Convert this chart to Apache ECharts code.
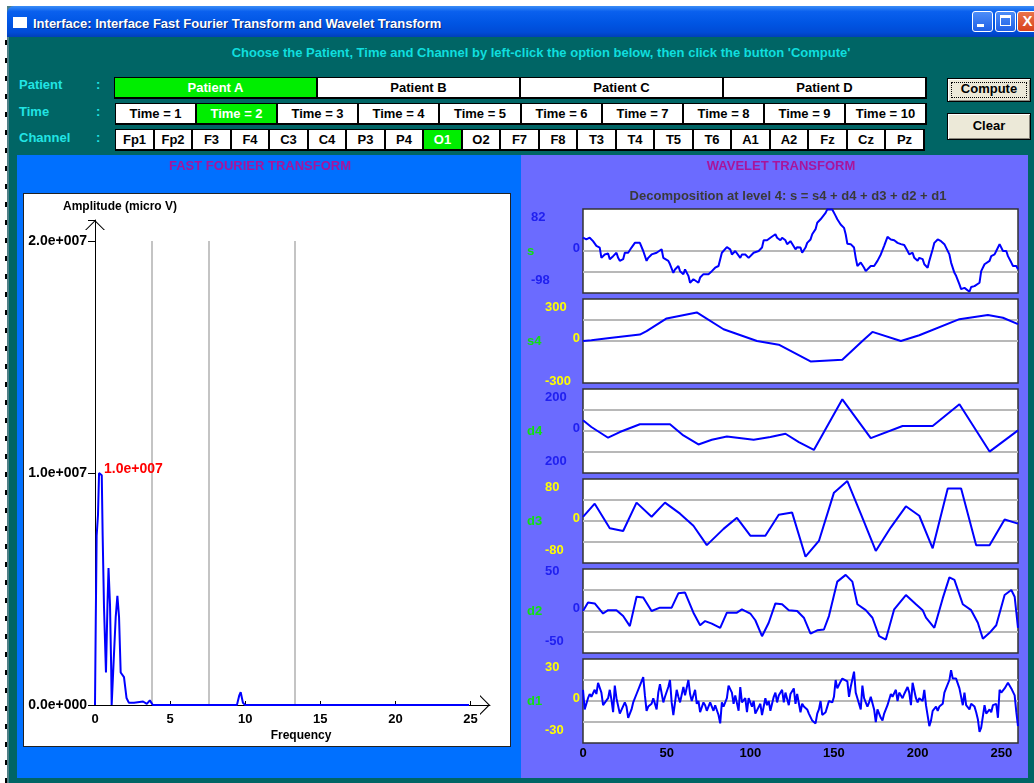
<!DOCTYPE html>
<html>
<head>
<meta charset="utf-8">
<script src="https://cdn.jsdelivr.net/npm/echarts@6/dist/echarts.min.js"></script>
<style>
body{margin:0;width:1034px;height:783px;overflow:hidden;background:#fff;position:relative;
  font-family:"Liberation Sans",Arial,sans-serif;font-weight:bold;font-size:13px}
.abs{position:absolute}
.opt{position:absolute;box-sizing:border-box;background:#fff;color:#000;border:1px solid #000;
  border-right-width:2px;border-bottom-width:2px;text-align:center;height:22px;line-height:19px;white-space:nowrap;overflow:hidden}
.opt.on{background:#00ee00;color:#fff}
.lbl{position:absolute;color:#22e4e4;height:16px;line-height:16px}
.btn{position:absolute;box-sizing:border-box;background:#ece9d8;border:1px solid #000;
  box-shadow:inset 1px 1px 0 #fff,inset -1px -1px 0 #8a887e;text-align:center;color:#000}
.wb{position:absolute;top:11px;width:21px;height:21px;box-sizing:border-box;border:1px solid #fff;border-radius:3px;
  background:linear-gradient(#4d8ef8,#1f5fe6)}
#chart{position:absolute;left:0;top:0;width:1034px;height:783px;z-index:5}
</style>
</head>
<body>
<div class="abs" style="left:5px;top:40px;width:2px;height:743px;background:repeating-linear-gradient(#000 0 5px,transparent 5px 18px)"></div>
<div class="abs" style="left:7px;top:6px;width:1027px;height:777px;background:#4f7f86"></div>
<div class="abs" style="left:9px;top:37px;width:1025px;height:746px;background:#006565"></div>
<div class="abs" style="left:7px;top:6px;width:1027px;height:31px;border-radius:7px 0 0 0;
  background:linear-gradient(#3b8df6 0%,#0a60ee 18%,#0055e3 55%,#004bd6 85%,#003fb8 100%)"></div>
<div class="abs" style="left:13px;top:17px;width:14px;height:11px;background:#fff"></div>
<div class="abs" style="left:33px;top:16px;color:#fff;text-shadow:1px 1px 0 #0a2a7a">Interface: Interface Fast Fourier Transform and Wavelet Transform</div>
<div class="wb" style="left:972px"><div class="abs" style="left:4px;top:12px;width:7px;height:3px;background:#fff"></div></div>
<div class="wb" style="left:995px"><div class="abs" style="left:4px;top:3px;width:11px;height:11px;box-sizing:border-box;border:1px solid #fff;border-top-width:3px"></div></div>
<div class="wb" style="left:1017px;width:21px;background:linear-gradient(#e9734b,#d8421c);color:#fff;font-size:15px;line-height:18px;text-align:center">X</div>

<div class="abs" style="left:0;top:45px;width:1082px;text-align:center;color:#10dede">Choose the Patient, Time and Channel by left-click the option below, then click the button 'Compute'</div>
<div class="lbl" style="left:19px;top:77px">Patient</div><div class="lbl" style="left:96px;top:77px">:</div>
<div class="lbl" style="left:19px;top:104px">Time</div><div class="lbl" style="left:96px;top:104px">:</div>
<div class="lbl" style="left:19px;top:130px">Channel</div><div class="lbl" style="left:96px;top:130px">:</div>
<div class="btn" style="left:947px;top:78px;width:84px;height:24px;line-height:20px">
  <div class="abs" style="left:3px;top:3px;right:3px;bottom:3px;border:1px dotted #000"></div>Compute</div>
<div class="btn" style="left:947px;top:113px;width:84px;height:27px;line-height:24px">Clear</div>

<div class="abs" style="left:17px;top:155px;width:504px;height:623px;background:#0070ff"></div>
<div class="abs" style="left:521px;top:155px;width:507px;height:623px;background:#6b6bff"></div>
<div class="abs" style="left:23px;top:193px;width:486px;height:552px;background:#fff;border:1px solid #222"></div>

<div id="chart"></div>
<script>
// option rows
var patients = ['Patient A', 'Patient B', 'Patient C', 'Patient D'];
var times = ['Time = 1', 'Time = 2', 'Time = 3', 'Time = 4', 'Time = 5', 'Time = 6', 'Time = 7', 'Time = 8', 'Time = 9', 'Time = 10'];
var channels = ['Fp1', 'Fp2', 'F3', 'F4', 'C3', 'C4', 'P3', 'P4', 'O1', 'O2', 'F7', 'F8', 'T3', 'T4', 'T5', 'T6', 'A1', 'A2', 'Fz', 'Cz', 'Pz'];
var selected = {patient: 0, time: 1, channel: 8};

// FFT spectrum: [frequency (Hz), amplitude (micro V)]
var fftSpectrum = [[0, 0], [0.05, 3.6e6], [0.11, 7.3e6], [0.2, 8.2e6], [0.27, 10.0e6], [0.45, 9.9e6], [0.51, 7.3e6],
  [0.6, 4.2e6], [0.73, 1.4e6], [0.83, 4.3e6], [0.9, 5.9e6], [1.0, 4.3e6], [1.08, 1.5e6], [1.11, 0], [1.25, 2.0e6],
  [1.38, 3.8e6], [1.49, 4.7e6], [1.6, 3.8e6], [1.71, 1.4e6], [1.93, 1.2e6], [2.1, 0.3e6], [2.25, 0.1e6], [2.6, 0.1e6],
  [3.2, 0.15e6], [3.3, 0.2e6], [3.45, 0.05e6], [3.65, 0.2e6], [3.85, 0], [9.45, 0], [9.6, 0.4e6], [9.7, 0.55e6],
  [9.85, 0.1e6], [10.0, 0], [24.9, 0]];
var bandEdges = [3.75, 7.55, 13.3];
var fftYTicks = [0, 1e7, 2e7];

// wavelet decomposition: [sample, value]
var sigS = [[0,31],[2,27],[4,31],[6,23],[8,12],[10,8],[11,-16],[13,-8],[15,-6],[16,-19],[17,-23],[18,-12],[20,-4],[21,-16],[22,-23],[24,-19],[25,-4],[27,-4],[29,8],[31,19],[32,23],[34,19],[36,0],[38,-23],[39,-16],[41,-8],[42,-12],[44,-4],[45,0],[47,4],[48,-16],[49,-12],[51,-23],[52,-31],[54,-51],[55,-43],[57,-35],[58,-47],[60,-54],[61,-43],[63,-58],[64,-74],[66,-66],[67,-70],[69,-74],[70,-62],[72,-54],[75,-54],[77,-47],[79,-39],[81,-35],[83,-4],[84,0],[86,9],[88,4],[89,-8],[91,0],[92,0],[94,-16],[95,-8],[97,-8],[99,-16],[100,-12],[102,-4],[103,0],[105,0],[107,8],[108,25],[110,25],[112,31],[113,35],[115,39],[116,31],[118,25],[119,31],[121,25],[122,16],[124,23],[125,17],[127,4],[128,9],[130,8],[131,-4],[133,8],[134,19],[136,27],[137,39],[139,51],[140,66],[142,74],[143,78],[145,89],[146,97],[147,93],[149,97],[150,95],[151,82],[152,74],[154,62],[156,54],[157,39],[158,17],[160,16],[162,8],[163,-16],[164,-35],[165,-35],[166,-27],[168,-39],[169,-47],[170,-43],[172,-35],[173,-39],[174,-35],[176,-23],[178,-8],[179,-4],[180,12],[182,33],[184,27],[186,25],[188,19],[190,16],[192,14],[194,0],[195,-8],[197,-4],[198,-16],[200,-23],[201,-16],[203,-19],[204,-31],[206,-39],[207,-23],[209,4],[210,19],[212,27],[214,23],[216,16],[217,12],[219,-8],[220,-27],[222,-51],[223,-58],[225,-78],[226,-89],[228,-86],[229,-89],[231,-95],[232,-84],[234,-82],[235,-78],[237,-74],[238,-47],[240,-31],[241,-35],[243,-23],[244,-12],[246,-8],[247,0],[249,16],[250,12],[251,0],[253,0],[254,-12],[256,-27],[257,-35],[259,-35],[260,-43]];
var sigS4 = [[0,0],[5,5],[16,22],[34,46],[38,70],[50,161],[68,204],[84,84],[104,0],[117,-26],[136,-146],[155,-134],[167,0],[173,65],[190,0],[201,41],[225,156],[242,185],[251,166],[260,120]];
var sigD4 = [[0,51],[5,19],[15,-32],[22,-5],[34,32],[52,32],[60,-21],[69,-64],[77,-42],[86,-26],[102,-42],[112,-29],[121,-13],[129,-53],[138,-90],[155,151],[172,-34],[191,24],[209,24],[225,127],[243,-98],[260,3]];
var sigD3 = [[0,8],[7,33],[16,-14],[24,-19],[32,35],[41,8],[49,35],[58,14],[66,-9],[74,-46],[84,-15],[92,6],[100,-28],[109,-28],[117,12],[125,16],[133,-68],[141,-38],[150,54],[158,76],[166,14],[175,-57],[184,-12],[193,28],[201,10],[209,-52],[218,62],[226,62],[235,-46],[243,-46],[252,3],[260,-5]];
var sigD2 = [[0,0],[3,10],[7,9],[12,-3],[15,1],[20,1],[24,-6],[28,-18],[32,17],[36,16],[41,0],[46,4],[53,4],[57,21],[61,22],[66,-2],[70,-17],[73,-12],[77,-15],[82,-20],[86,-2],[92,-2],[95,2],[100,-3],[103,-11],[107,-30],[111,-14],[115,9],[119,8],[123,1],[128,0],[132,-8],[136,-27],[140,-23],[144,-22],[147,-6],[152,35],[157,43],[161,35],[164,8],[169,1],[173,-8],[177,-30],[181,-34],[186,2],[193,19],[199,8],[203,1],[205,-8],[210,-20],[215,15],[219,40],[222,37],[227,8],[232,1],[236,-14],[239,-33],[243,-26],[247,-17],[252,19],[256,25],[258,17],[260,-20]];
var sigD1 = [[0,8],[1,-6],[3,2],[4,5],[5,3],[7,8],[8,5],[9,13],[11,6],[12,-3],[13,-2],[15,2],[16,8],[17,1],[18,-8],[19,11],[20,2],[22,-9],[23,-9],[25,-1],[26,-4],[27,-12],[29,-6],[30,-1],[32,5],[34,11],[36,17],[37,4],[38,-7],[39,-4],[41,-2],[42,2],[44,-6],[45,6],[46,12],[48,-1],[49,3],[51,10],[52,15],[53,-1],[54,-10],[56,8],[57,3],[58,-1],[60,10],[61,4],[63,15],[64,5],[65,0],[67,8],[68,-2],[69,0],[70,-8],[72,-1],[73,-3],[74,-7],[76,-1],[78,-7],[79,-3],[81,-10],[82,-16],[83,-1],[84,-4],[86,2],[87,11],[89,6],[90,-2],[91,4],[93,-7],[94,10],[95,-1],[97,2],[98,-8],[99,2],[101,-4],[102,0],[103,-9],[104,-8],[106,-2],[107,-10],[109,2],[110,-3],[111,0],[112,-7],[114,3],[115,6],[116,-1],[117,4],[119,8],[120,-1],[121,6],[123,-3],[124,5],[126,9],[127,-2],[128,5],[130,-8],[131,-2],[132,-4],[134,-6],[135,-9],[137,-14],[139,-16],[140,-9],[141,-6],[142,0],[143,-10],[145,-8],[146,-4],[147,0],[149,-1],[150,3],[151,15],[152,9],[154,14],[155,16],[156,16],[158,14],[159,3],[160,10],[162,21],[163,6],[164,2],[166,-6],[167,11],[168,2],[170,-4],[171,-1],[172,3],[174,-6],[175,-15],[176,-6],[178,-12],[179,-14],[180,-9],[182,-3],[183,-2],[184,5],[185,3],[187,8],[188,0],[189,6],[191,2],[192,5],[194,10],[195,6],[196,-3],[197,13],[199,2],[200,-1],[201,2],[203,0],[204,8],[205,-3],[207,-18],[208,-14],[209,-7],[211,-4],[212,-7],[213,-4],[215,-2],[216,6],[217,9],[219,15],[220,22],[221,16],[223,16],[224,15],[225,9],[227,-3],[228,6],[229,-3],[231,-6],[232,-2],[234,-4],[235,-8],[236,-13],[237,-22],[238,-19],[240,-3],[241,-9],[242,-8],[243,-6],[244,-8],[245,-3],[247,-2],[248,-12],[249,8],[250,6],[252,9],[253,9],[254,13],[255,14],[256,9],[258,4],[259,-8],[260,-18]];

var waveNames = ['s', 's4', 'd4', 'd3', 'd2', 'd1'];
var waveSignals = [sigS, sigS4, sigD4, sigD3, sigD2, sigD1];
var waveRange = [98, 300, 200, 80, 50, 30];
var waveTopLabel = ['82', '300', '200', '80', '50', '30'];
var waveBottomLabel = ['-98', '-300', '200', '-80', '-50', '-30'];
var waveGridLines = [[0, -49], [0, 150], [-100, 0, 100], [-40, 0, 40], [-25, 0, 25], [-15, 0, 15]];

// buttons
function addRow(labels, sel, x0, y, w) {
  labels.forEach(function (t, i) {
    var d = document.createElement('div');
    d.className = 'opt' + (i === sel ? ' on' : '');
    d.style.left = Math.round(x0 + i * w) + 'px';
    d.style.top = y + 'px';
    d.style.width = (Math.round(x0 + (i + 1) * w) - Math.round(x0 + i * w) + 1) + 'px';
    d.textContent = t;
    document.body.appendChild(d);
  });
}
addRow(patients, selected.patient, 114, 77, 203);
addRow(times, selected.time, 115, 103, 81.1);
addRow(channels, selected.channel, 115, 129, 38.5);

var FONT = '"Liberation Sans", Arial, sans-serif';
function sci(v) {
  if (v === 0) return '0.0e+000';
  var e = Math.floor(Math.log10(Math.abs(v)));
  var m = v / Math.pow(10, e);
  return m.toFixed(1) + 'e+' + String(e).padStart(3, '0');
}
var chevron = 'path://M0,10 L10,0 L20,10 L18.6,10 L10,1.6 L1.4,10 Z';

var myChart = echarts.init(document.getElementById('chart'));

var grids = [{left: 95, top: 220, width: 395, height: 485, show: false}];
var xAxes = [{
  gridIndex: 0, type: 'value', min: 0, max: 26.3, interval: 5,
  axisLine: {lineStyle: {color: '#000', width: 1}, symbol: ['none', chevron], symbolSize: [20, 10], symbolOffset: [0, -5]},
  axisTick: {inside: true, length: 4, lineStyle: {color: '#000'}},
  axisLabel: {showMaxLabel: false, margin: 8, color: '#000', fontWeight: 'bold', fontSize: 13, fontFamily: FONT},
  splitLine: {show: false}
}];
var yAxes = [{
  gridIndex: 0, type: 'value', min: 0, max: 2.09e7, interval: 1e7,
  axisLine: {lineStyle: {color: '#000', width: 1}, symbol: ['none', chevron], symbolSize: [20, 10], symbolOffset: [0, -5]},
  axisTick: {length: 7, lineStyle: {color: '#000'}},
  axisLabel: {margin: 8, color: '#000', fontWeight: 'bold', fontSize: 14, fontFamily: FONT,
    customValues: fftYTicks, formatter: sci},
  splitLine: {show: false}
}];
var series = [{
  type: 'line', xAxisIndex: 0, yAxisIndex: 0, data: fftSpectrum, showSymbol: false,
  lineStyle: {color: '#0000ff', width: 2},
  markLine: {
    silent: true, symbol: 'none', z: 1, label: {show: false},
    lineStyle: {color: '#b0b0b0', width: 1.5, type: 'solid'},
    data: bandEdges.map(function (f) { return [{coord: [f, 0]}, {coord: [f, 2e7]}]; })
  },
  markPoint: {
    symbol: 'circle', symbolSize: 0,
    label: {show: true, position: 'right', distance: 5, offset: [0, -4], color: '#ff0000', fontWeight: 'bold',
      fontSize: 14, fontFamily: FONT, formatter: function (p) { return sci(p.value); }},
    data: [{type: 'max'}]
  }
}];

// label placement inside each wavelet box (fraction of range), colours
var topPos = [0.79, 0.8, 0.8, 0.8, 0.94, 0.8];
var botPos = [-0.69, -0.96, -0.73, -0.7, -0.73, -0.7];
var labelColor = ['#2020f0', '#ffff00', '#2020f0', '#ffff00', '#2020f0', '#ffff00'];

waveNames.forEach(function (name, i) {
  var R = waveRange[i];
  var gi = i + 1;
  grids.push({left: 583, top: 209 + 90 * i, width: 435, height: 84, show: true,
    backgroundColor: '#fff', borderColor: '#333', borderWidth: 1.5});
  xAxes.push({
    gridIndex: gi, type: 'value', min: 0, max: 260, interval: 50, show: i === 5,
    axisLine: {show: false}, axisTick: {show: false}, splitLine: {show: false},
    axisLabel: {showMaxLabel: false, margin: 4, color: '#000', fontWeight: 'bold', fontSize: 13, fontFamily: FONT}
  });
  var colW = i === 0 ? 49 : 35;
  yAxes.push({
    gridIndex: gi, type: 'value', min: -R, max: R,
    axisLine: {show: false}, axisTick: {show: false}, splitLine: {show: false},
    name: name, nameLocation: 'middle', nameRotate: 0, nameGap: 56, nameMoveOverlap: false,
    nameTextStyle: {align: 'left', verticalAlign: 'middle', color: '#10e010', fontWeight: 'bold', fontSize: 13, fontFamily: FONT},
    axisLabel: {
      margin: 3,
      customValues: [botPos[i] * R, 0.05 * R, topPos[i] * R],
      formatter: function (v) {
        if (v > 0.3 * R) return '{o|' + waveTopLabel[i] + '}';
        if (v < -0.3 * R) return '{o|' + waveBottomLabel[i] + '}';
        return '{z|0}';
      },
      rich: {
        o: {width: colW, align: 'left', color: labelColor[i], fontWeight: 'bold', fontSize: 13, fontFamily: FONT},
        z: {color: labelColor[i], fontWeight: 'bold', fontSize: 13, fontFamily: FONT}
      }
    }
  });
  series.push({
    type: 'line', xAxisIndex: gi, yAxisIndex: gi, data: waveSignals[i], showSymbol: false, clip: true,
    lineStyle: {color: '#0000ff', width: 2},
    markLine: {
      silent: true, symbol: 'none', z: 1, label: {show: false},
      lineStyle: {color: '#b8b8b8', width: 2, type: 'solid'},
      data: waveGridLines[i].map(function (v) { return {yAxis: v}; })
    }
  });
});

option = {
  animation: false,
  graphic: [
    {type: 'text', x: 260, y: 166, style: {text: 'FAST FOURIER TRANSFORM', fill: '#a8149c', align: 'center', verticalAlign: 'middle',
      font: 'bold 13px ' + FONT}},
    {type: 'text', x: 781, y: 166, style: {text: 'WAVELET TRANSFORM', fill: '#a8149c', align: 'center', verticalAlign: 'middle',
      font: 'bold 13px ' + FONT}},
    {type: 'text', x: 788, y: 196, style: {text: 'Decomposition at level 4: s = s4 + d4 + d3 + d2 + d1', fill: '#3a3a3a',
      align: 'center', verticalAlign: 'middle', font: 'bold 13px ' + FONT}},
    {type: 'text', x: 63, y: 207, style: {text: 'Amplitude (micro V)', fill: '#000', align: 'left', verticalAlign: 'middle',
      font: 'bold 12px ' + FONT}},
    {type: 'text', x: 301, y: 736, style: {text: 'Frequency', fill: '#000', align: 'center', verticalAlign: 'middle',
      font: 'bold 12px ' + FONT}}
  ],
  grid: grids,
  xAxis: xAxes,
  yAxis: yAxes,
  series: series
};
if (option && typeof option === 'object') {
  myChart.setOption(option, true);
}
</script>
</body>
</html>
